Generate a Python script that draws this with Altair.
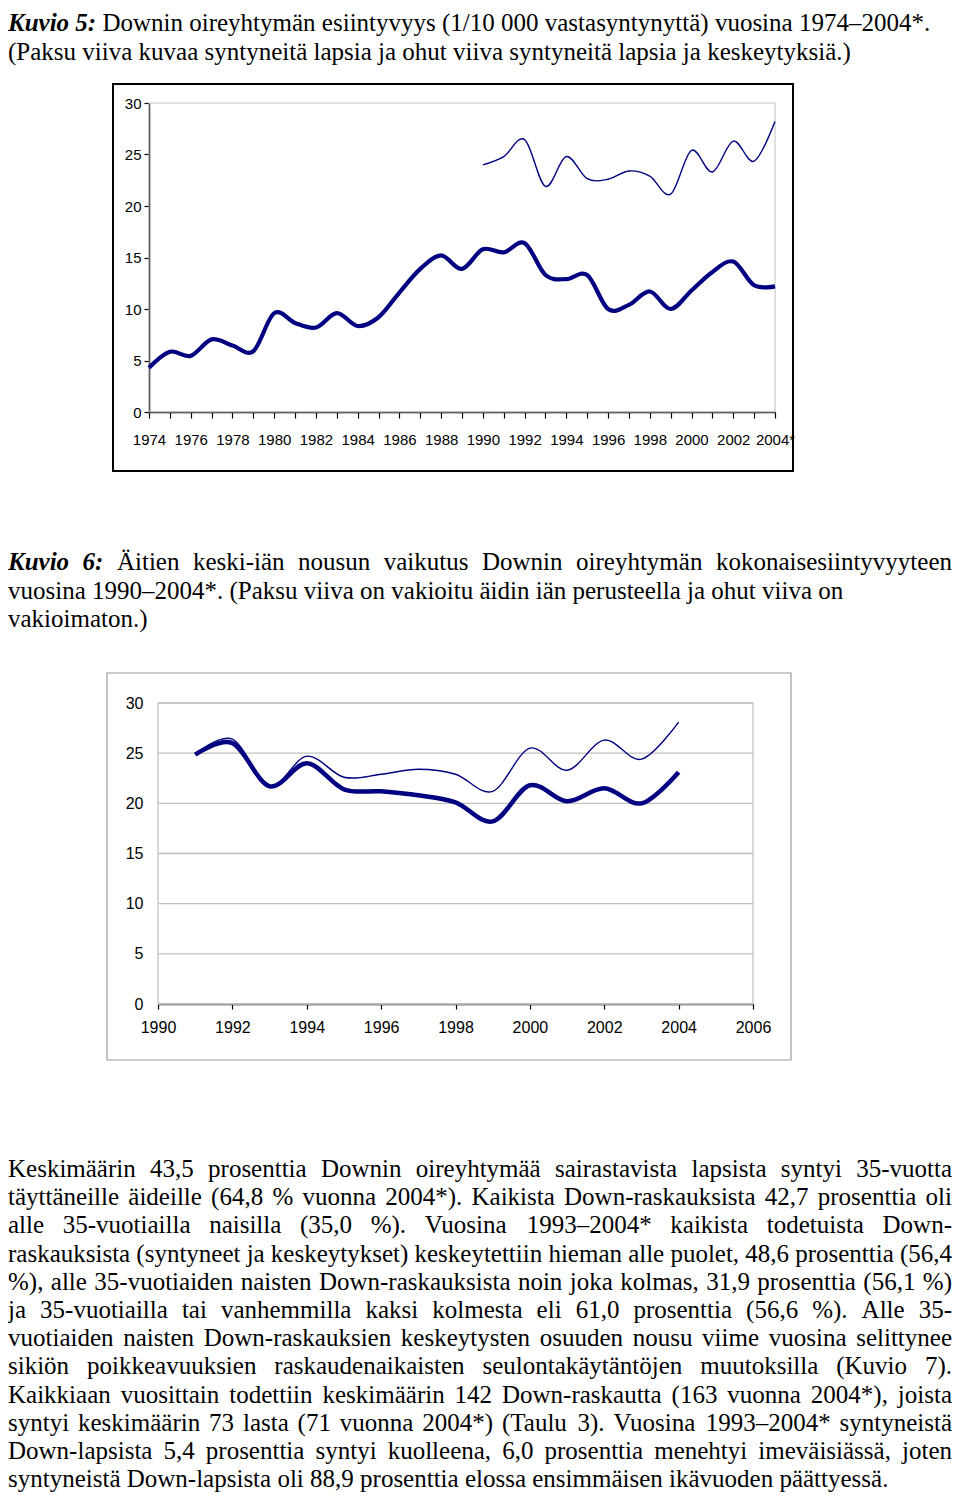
import altair as alt
import pandas as pd

# ---------------- data ----------------
years1 = list(range(1974, 2005))
born1 = [4.3, 5.85, 5.45, 7.05, 6.45, 5.9, 9.6, 8.65, 8.2, 9.6, 8.35, 9.2, 11.6, 13.9,
         15.2, 13.9, 15.8, 15.5, 16.4, 13.3, 12.9, 13.3, 10.0, 10.4, 11.7, 10.0, 11.8,
         13.6, 14.6, 12.3, 12.2]
years1b = list(range(1990, 2005))
total1 = [24.0, 24.8, 26.45, 21.9, 24.8, 22.65, 22.6, 23.4, 22.9, 21.15, 25.4, 23.3,
          26.3, 24.35, 28.2]
years2 = list(range(1991, 2005))
std2 = [24.85, 26.0, 21.7, 24.0, 21.4, 21.2, 20.8, 20.1, 18.2, 21.8, 20.2, 21.5, 20.0, 23.1]
raw2 = [24.9, 26.4, 21.7, 24.7, 22.6, 22.9, 23.4, 22.9, 21.2, 25.5, 23.3, 26.3, 24.4, 28.1]
y_ticks = [0, 5, 10, 15, 20, 25, 30]
x1_ticks = list(range(1974, 2005))
x2_ticks = list(range(1990, 2007, 2))

header_bold = "Kuvio 5:"
header_line1 = "Downin oireyhtymän esiintyvyys (1/10 000 vastasyntynyttä) vuosina 1974–2004*."
header_line2 = "(Paksu viiva kuvaa syntyneitä lapsia ja ohut viiva syntyneitä lapsia ja keskeytyksiä.)"
fig6_bold = "Kuvio 6:"
fig6_line1 = "Äitien keski-iän nousun vaikutus Downin oireyhtymän kokonaisesiintyvyyteen"
fig6_line2 = "vuosina 1990–2004*. (Paksu viiva on vakioitu äidin iän perusteella ja ohut viiva on"
fig6_line3 = "vakioimaton.)"
body_lines = [
    "Keskimäärin 43,5 prosenttia Downin oireyhtymää sairastavista lapsista syntyi 35-vuotta",
    "täyttäneille äideille (64,8 % vuonna 2004*). Kaikista Down-raskauksista 42,7 prosenttia oli",
    "alle 35-vuotiailla naisilla (35,0 %). Vuosina 1993–2004* kaikista todetuista Down-",
    "raskauksista (syntyneet ja keskeytykset) keskeytettiin hieman alle puolet, 48,6 prosenttia (56,4",
    "%), alle 35-vuotiaiden naisten Down-raskauksista noin joka kolmas, 31,9 prosenttia (56,1 %)",
    "ja 35-vuotiailla tai vanhemmilla kaksi kolmesta eli 61,0 prosenttia (56,6 %). Alle 35-",
    "vuotiaiden naisten Down-raskauksien keskeytysten osuuden nousu viime vuosina selittynee",
    "sikiön poikkeavuuksien raskaudenaikaisten seulontakäytäntöjen muutoksilla (Kuvio 7).",
    "Kaikkiaan vuosittain todettiin keskimäärin 142 Down-raskautta (163 vuonna 2004*), joista",
    "syntyi keskimäärin 73 lasta (71 vuonna 2004*) (Taulu 3). Vuosina 1993–2004* syntyneistä",
    "Down-lapsista 5,4 prosenttia syntyi kuolleena, 6,0 prosenttia menehtyi imeväisiässä, joten",
    "syntyneistä Down-lapsista oli 88,9 prosenttia elossa ensimmäisen ikävuoden päättyessä.",
]

# ---------------- styles ----------------
NAVY = "#000080"
SERIF = "Liberation Serif, Times New Roman, serif"
SANS = "Liberation Sans, Arial, sans-serif"
FS = 25
PAGE_W = 944

# Times metrics (1/1000 em) for word placement in justified lines
TR = dict(a=444, b=500, c=444, d=500, e=444, f=333, g=500, h=500, i=278, j=278, k=500,
          l=278, m=778, n=500, o=500, p=500, q=500, r=333, s=389, t=278, u=500, v=500,
          w=722, x=500, y=500, z=444,
          A=722, B=667, C=667, D=722, E=611, F=556, G=722, H=722, I=333, J=389, K=722,
          L=611, M=889, N=722, O=722, P=556, Q=722, R=667, S=556, T=611, U=722, V=722,
          W=944, X=722, Y=722, Z=611)
TR.update({' ': 250, '%': 833, '(': 333, ')': 333, '*': 500, ',': 250, '-': 333, '.': 250,
           '/': 278, ':': 278, '–': 500, 'ä': 444, 'ö': 500, 'Ä': 722})
TBI = {'K': 667, 'u': 556, 'v': 444, 'i': 278, 'o': 500, ' ': 250, ':': 333}


def tw(s, table):
    return sum(table.get(c, 500) for c in s) * FS / 1000.0


items = []


def add(x, y, s, kind):
    items.append({"x": x, "y": y, "text": s, "kind": kind})


def justify(y, words, left=0.0, right=float(PAGE_W)):
    widths = [tw(w, TBI if b else TR) for w, b in words]
    gap = (right - left - sum(widths)) / (len(words) - 1)
    x = left
    for i, ((w, b), wd) in enumerate(zip(words, widths)):
        if i == len(words) - 1 and not b:
            add(right, y, w, "R")
        else:
            add(x, y, w, "B" if b else "L")
        x += wd + gap


# header (Kuvio 5)
add(0, 23, header_bold, "B")
add(tw(header_bold, TBI) + tw(" ", TR), 23, header_line1, "L")
add(0, 51.5, header_line2, "L")
# Kuvio 6 title
justify(562, [(w, True) for w in fig6_bold.split()] + [(w, False) for w in fig6_line1.split()])
add(0, 590.7, fig6_line2, "L")
add(0, 619.4, fig6_line3, "L")
# body
for i, line in enumerate(body_lines):
    y = 1169 + 28.2 * i
    if i < len(body_lines) - 1:
        justify(y, [(w, False) for w in line.split()])
    else:
        add(0, y, line, "L")

tdf = pd.DataFrame(items)


def text_layer(kind, **kw):
    return alt.Chart(tdf[tdf.kind == kind]).mark_text(
        font=SERIF, fontSize=FS, baseline="alphabetic", color="black", **kw
    ).encode(
        x=alt.X("x:Q", scale=None, axis=None),
        y=alt.Y("y:Q", scale=None, axis=None),
        text="text:N",
    )


text_view = alt.layer(
    text_layer("L", align="left"),
    text_layer("R", align="right"),
    text_layer("B", align="left", fontWeight="bold", fontStyle="italic"),
).properties(width=PAGE_W, height=95)


def spacer(h):
    return alt.Chart(pd.DataFrame({"k": [0]})).mark_rect(opacity=0).encode(
        x=alt.value(2), x2=alt.value(3), y=alt.value(2), y2=alt.value(3)
    ).properties(width=PAGE_W, height=h)


one = pd.DataFrame({"k": [0]})

# ---------------- chart 1 ----------------
L1, R1, H1 = 141, 767, 309
xs1 = alt.Scale(domain=[1974, 2004], range=[L1, R1], nice=False, zero=False)
ys1 = alt.Scale(domain=[0, 30], nice=False)
ax1x = alt.Axis(values=x1_ticks, title=None, grid=False, domainColor="black", domainWidth=1.5,
                tickColor="black", tickSize=6, tickWidth=1.2, labelFont=SANS, labelFontSize=15,
                labelColor="black", labelPadding=14, labelOverlap=False, labelFlush=False,
                labelExpr="datum.value % 2 == 0 ? (datum.value == 2004 ? '2004*' : '' + datum.value) : ''")
ax1y = alt.Axis(values=y_ticks, title=None, grid=False, domainColor="black", domainWidth=1.5,
                tickColor="black", tickSize=5, tickWidth=1.2, labelFont=SANS, labelFontSize=15,
                labelColor="black", labelPadding=3, labelFlush=False, offset=-L1)

df_b1 = pd.DataFrame({"year": years1, "value": born1})
df_t1 = pd.DataFrame({"year": years1b, "value": total1})

frame1 = alt.Chart(one).mark_rect(fillOpacity=0, stroke="black", strokeWidth=2).encode(
    x=alt.value(L1 - 36), x2=alt.value(L1 + 644), y=alt.value(-19), y2=alt.value(368))
plot1 = alt.Chart(one).mark_rect(fillOpacity=0, stroke="#c0c0c0", strokeWidth=1).encode(
    x=alt.value(L1), x2=alt.value(R1), y=alt.value(0), y2=alt.value(H1))
thin1 = alt.Chart(df_t1).mark_line(color=NAVY, strokeWidth=1.4, interpolate="cardinal").encode(
    x=alt.X("year:Q", scale=xs1, axis=ax1x), y=alt.Y("value:Q", scale=ys1, axis=ax1y))
thick1 = alt.Chart(df_b1).mark_line(color=NAVY, strokeWidth=4.2, interpolate="cardinal").encode(
    x=alt.X("year:Q", scale=xs1, axis=ax1x), y=alt.Y("value:Q", scale=ys1, axis=ax1y))
chart1 = alt.layer(frame1, plot1, thin1, thick1).properties(width=PAGE_W, height=H1)

# ---------------- chart 2 ----------------
L2, R2, H2 = 150, 745, 301
xs2 = alt.Scale(domain=[1990, 2006], range=[L2, R2], nice=False, zero=False)
ys2 = alt.Scale(domain=[0, 30], nice=False)
ax2x = alt.Axis(values=x2_ticks, format="d", title=None, grid=False, domainColor="black",
                domainWidth=1.5, tickColor="black", tickSize=5, tickWidth=1.2, labelFont=SANS,
                labelFontSize=16, labelColor="black", labelPadding=10, labelFlush=False,
                labelOverlap=False)
ax2y = alt.Axis(values=y_ticks, title=None, grid=False, domain=False, ticks=False,
                labelFont=SANS, labelFontSize=16, labelColor="black", labelPadding=15,
                labelFlush=False, offset=-L2)

df_s2 = pd.DataFrame({"year": years2, "value": std2})
df_r2 = pd.DataFrame({"year": years2, "value": raw2})
df_grid = pd.DataFrame({"value": y_ticks})

frame2 = alt.Chart(one).mark_rect(fillOpacity=0, stroke="#9a9a9a", strokeWidth=1.2).encode(
    x=alt.value(L2 - 51), x2=alt.value(L2 + 633), y=alt.value(-30), y2=alt.value(357))
plot2 = alt.Chart(one).mark_rect(fillOpacity=0, stroke="#b0b0b0", strokeWidth=1).encode(
    x=alt.value(L2), x2=alt.value(R2), y=alt.value(0), y2=alt.value(H2))
grid2 = alt.Chart(df_grid).mark_rule(color="#c0c0c0", strokeWidth=1.3).encode(
    y=alt.Y("value:Q", scale=ys2, axis=ax2y), x=alt.value(L2), x2=alt.value(R2))
thin2 = alt.Chart(df_r2).mark_line(color=NAVY, strokeWidth=1.4, interpolate="cardinal").encode(
    x=alt.X("year:Q", scale=xs2, axis=ax2x), y=alt.Y("value:Q", scale=ys2, axis=ax2y))
thick2 = alt.Chart(df_s2).mark_line(color=NAVY, strokeWidth=4.5, interpolate="cardinal").encode(
    x=alt.X("year:Q", scale=xs2, axis=ax2x), y=alt.Y("value:Q", scale=ys2, axis=ax2y))
chart2 = alt.layer(frame2, plot2, grid2, thin2, thick2).properties(width=PAGE_W, height=H2)

# ---------------- page layout ----------------
chart = alt.vconcat(
    text_view,
    chart1,
    spacer(291),
    chart2,
    spacer(470),
    spacing=0,
    bounds="flush",
).properties(padding=0).configure_view(strokeWidth=0)

chart.save("out.html", embed_options={"renderer": "svg", "actions": False})
